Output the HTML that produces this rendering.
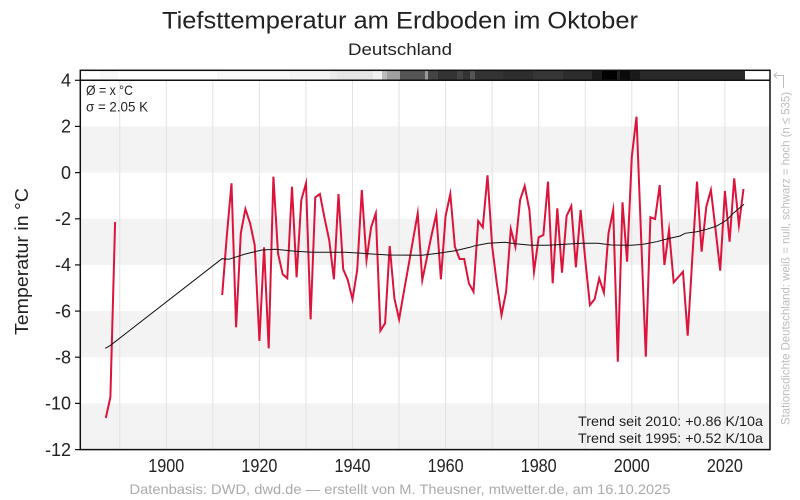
<!DOCTYPE html>
<html>
<head>
<meta charset="utf-8">
<style>
html,body{margin:0;padding:0;background:#fff;}
svg{display:block;}
text{font-family:"Liberation Sans",sans-serif;}
</style>
</head>
<body>
<svg width="800" height="500" viewBox="0 0 800 500" xmlns="http://www.w3.org/2000/svg">
<rect x="0" y="0" width="800" height="500" fill="#fff"/>
<!-- bands -->
<g fill="#f3f3f3">
<rect x="80.3" y="126.4" width="689.7" height="46.2"/>
<rect x="80.3" y="218.8" width="689.7" height="46.1"/>
<rect x="80.3" y="311.1" width="689.7" height="46.1"/>
<rect x="80.3" y="403.4" width="689.7" height="46.2"/>
</g>
<!-- vertical grid -->
<g stroke="#e2e2e2" stroke-width="1">
<line x1="119.75" y1="80" x2="119.75" y2="450"/>
<line x1="166.3" y1="80" x2="166.3" y2="450"/>
<line x1="212.85" y1="80" x2="212.85" y2="450"/>
<line x1="259.4" y1="80" x2="259.4" y2="450"/>
<line x1="305.95" y1="80" x2="305.95" y2="450"/>
<line x1="352.5" y1="80" x2="352.5" y2="450"/>
<line x1="399.05" y1="80" x2="399.05" y2="450"/>
<line x1="445.6" y1="80" x2="445.6" y2="450"/>
<line x1="492.15" y1="80" x2="492.15" y2="450"/>
<line x1="538.7" y1="80" x2="538.7" y2="450"/>
<line x1="585.25" y1="80" x2="585.25" y2="450"/>
<line x1="631.8" y1="80" x2="631.8" y2="450"/>
<line x1="678.35" y1="80" x2="678.35" y2="450"/>
<line x1="724.9" y1="80" x2="724.9" y2="450"/>
</g>
<!-- station density strip -->
<g shape-rendering="crispEdges">
<rect x="100" y="70.3" width="18" height="10" fill="#f8f8f8"/>
<rect x="217" y="70.3" width="73" height="10" fill="#f8f8f8"/>
<rect x="290" y="70.3" width="40" height="10" fill="#f3f3f3"/>
<rect x="330" y="70.3" width="7" height="10" fill="#ebebeb"/>
<rect x="337" y="70.3" width="36" height="10" fill="#e5e5e5"/>
<rect x="373" y="70.3" width="9" height="10" fill="#f0f0f0"/>
<rect x="382" y="70.3" width="5" height="10" fill="#bbbbbb"/>
<rect x="387" y="70.3" width="13" height="10" fill="#a0a0a0"/>
<rect x="400" y="70.3" width="25" height="10" fill="#555555"/>
<rect x="425" y="70.3" width="3" height="10" fill="#999999"/>
<rect x="428" y="70.3" width="10" height="10" fill="#444444"/>
<rect x="438" y="70.3" width="19" height="10" fill="#333333"/>
<rect x="457" y="70.3" width="6" height="10" fill="#444444"/>
<rect x="463" y="70.3" width="7" height="10" fill="#333333"/>
<rect x="470" y="70.3" width="5" height="10" fill="#555555"/>
<rect x="475" y="70.3" width="28" height="10" fill="#333333"/>
<rect x="503" y="70.3" width="30" height="10" fill="#2e2e2e"/>
<rect x="533" y="70.3" width="30" height="10" fill="#363636"/>
<rect x="563" y="70.3" width="29" height="10" fill="#2c2c2c"/>
<rect x="592" y="70.3" width="10" height="10" fill="#1a1a1a"/>
<rect x="602" y="70.3" width="15" height="10" fill="#000000"/>
<rect x="617" y="70.3" width="3" height="10" fill="#222222"/>
<rect x="620" y="70.3" width="10" height="10" fill="#0a0a0a"/>
<rect x="630" y="70.3" width="10" height="10" fill="#1a1a1a"/>
<rect x="640" y="70.3" width="105" height="10" fill="#2a2a2a"/>
</g>
<!-- frame -->
<rect x="80.3" y="70.3" width="689.7" height="379.3" fill="none" stroke="#111" stroke-width="1.5"/>
<line x1="80.3" y1="80.3" x2="770" y2="80.3" stroke="#111" stroke-width="1.5"/>
<!-- y ticks -->
<g stroke="#111" stroke-width="1.2">
<line x1="75" y1="80.3" x2="80.3" y2="80.3"/>
<line x1="75" y1="126.4" x2="80.3" y2="126.4"/>
<line x1="75" y1="172.6" x2="80.3" y2="172.6"/>
<line x1="75" y1="218.8" x2="80.3" y2="218.8"/>
<line x1="75" y1="264.9" x2="80.3" y2="264.9"/>
<line x1="75" y1="311.1" x2="80.3" y2="311.1"/>
<line x1="75" y1="357.2" x2="80.3" y2="357.2"/>
<line x1="75" y1="403.4" x2="80.3" y2="403.4"/>
<line x1="75" y1="449.6" x2="80.3" y2="449.6"/>
</g>
<g font-size="18" fill="#222" text-anchor="end">
<text x="71" y="86.5">4</text>
<text x="71" y="132.6">2</text>
<text x="71" y="178.8">0</text>
<text x="71" y="225">-2</text>
<text x="71" y="271.1">-4</text>
<text x="71" y="317.3">-6</text>
<text x="71" y="363.4">-8</text>
<text x="71" y="409.6">-10</text>
<text x="71" y="455.8">-12</text>
</g>
<g font-size="18" fill="#222" text-anchor="middle">
<text x="166.3" y="472" textLength="36" lengthAdjust="spacingAndGlyphs">1900</text>
<text x="259.4" y="472" textLength="36" lengthAdjust="spacingAndGlyphs">1920</text>
<text x="352.5" y="472" textLength="36" lengthAdjust="spacingAndGlyphs">1940</text>
<text x="445.6" y="472" textLength="36" lengthAdjust="spacingAndGlyphs">1960</text>
<text x="538.7" y="472" textLength="36" lengthAdjust="spacingAndGlyphs">1980</text>
<text x="631.8" y="472" textLength="36" lengthAdjust="spacingAndGlyphs">2000</text>
<text x="724.9" y="472" textLength="36" lengthAdjust="spacingAndGlyphs">2020</text>
</g>
<!-- data -->
<g fill="none" stroke="#dc143c" stroke-width="2" stroke-linejoin="miter" stroke-miterlimit="10">
<polyline points="105.8,418 110.4,397 115.1,222"/>
<polyline points="222.2,295 226.8,236 231.5,183.3 236.1,327.3 240.8,233.3 245.4,209 250.1,223.3 254.7,245 259.4,341 264.1,247.3 268.7,348.3 273.4,176.7 278.0,253.3 282.7,274.3 287.3,278.3 292.0,186.7 296.6,277.3 301.3,200 306.0,183.3 310.6,319.3 315.3,197.3 319.9,194 324.6,218.3 329.2,240 333.9,279.3 338.5,194 343.2,269.3 347.8,280 352.5,299.3 357.2,270 361.8,190 366.5,260 371.1,227.3 375.8,213.3 380.4,330.7 385.1,323.3 389.7,246 394.4,298.3 399.1,319.3 403.7,292.7 408.4,266.3 413.0,240 417.7,213.3 422.3,280 427.0,257.3 431.6,235 436.3,214 440.9,279.3 445.6,216 450.3,194 454.9,246.7 459.6,259 464.2,259 468.9,283.3 473.5,291.7 478.2,221 482.8,227.3 487.5,175.3 492.2,246.7 496.8,283.3 501.5,315 506.1,291.7 510.8,229 515.4,246.7 520.1,200 524.7,186 529.4,210 534.0,271.7 538.7,237.3 543.4,235 548.0,181.7 552.7,283.3 557.3,208.3 562.0,272.7 566.6,216 571.3,206 575.9,267.3 580.6,210 585.3,260 589.9,305 594.6,299.3 599.2,278.3 603.9,292.7 608.5,233.3 613.2,210 617.8,361.7 622.5,202.3 627.1,261.7 631.8,156.7 636.5,116.7 641.1,236.7 645.8,356.7 650.4,217.3 655.1,219 659.7,185 664.4,265 669.0,230 673.7,282.3 678.4,277 683.0,271.7 687.7,335.7 692.3,258 697.0,181.7 701.6,251.7 706.3,206.7 710.9,190 715.6,230 720.2,270.7 724.9,191 729.6,241.7 734.2,178.3 738.9,225 743.5,189"/>
</g>
<polyline fill="none" stroke="#111" stroke-width="1" points="105.3,348.3 110,345.7 222,258.7 228.7,259.3 245.3,254 262,250 275.3,249.3 295.3,251.3 312,252.3 345.3,252.3 362,253.3 371.7,254 388.3,255 421.7,255.3 438.3,253.3 455,250.7 470,247.3 475,245.7 488.3,243.3 505,242.3 518,244 531.3,245.3 548,245.3 564.7,244.3 581.3,243.3 598,243.3 611.3,245 631.3,245.3 643.3,244.3 656.7,241.7 666.7,239 680,236 685,233.3 696.7,231.7 706.7,229.3 716.7,226 726.7,220 733.3,213.3 744,204.3"/>
<!-- annotations -->
<g font-size="14" fill="#222">
<text x="86" y="95" textLength="47" lengthAdjust="spacingAndGlyphs">Ø = x °C</text>
<text x="86" y="111.5" textLength="62" lengthAdjust="spacingAndGlyphs">σ = 2.05 K</text>
<text x="763" y="426" text-anchor="end" textLength="185" lengthAdjust="spacingAndGlyphs">Trend seit 2010: +0.86 K/10a</text>
<text x="763" y="443" text-anchor="end" textLength="185" lengthAdjust="spacingAndGlyphs">Trend seit 1995: +0.52 K/10a</text>
</g>
<!-- titles -->
<text x="400" y="28.5" font-size="24" fill="#222" text-anchor="middle" textLength="476" lengthAdjust="spacingAndGlyphs">Tiefsttemperatur am Erdboden im Oktober</text>
<text x="400" y="55" font-size="17" fill="#222" text-anchor="middle" textLength="104" lengthAdjust="spacingAndGlyphs">Deutschland</text>
<text transform="translate(28,261.5) rotate(-90)" font-size="18" fill="#222" text-anchor="middle" textLength="147" lengthAdjust="spacingAndGlyphs">Temperatur in °C</text>
<text x="400" y="494" font-size="14" fill="#aaa" text-anchor="middle" textLength="541" lengthAdjust="spacingAndGlyphs">Datenbasis: DWD, dwd.de — erstellt von M. Theusner, mtwetter.de, am 16.10.2025</text>
<!-- right side vertical label -->
<text transform="translate(789.5,425) rotate(-90)" font-size="12" fill="#bdbdbd" textLength="333" lengthAdjust="spacingAndGlyphs">Stationsdichte Deutschland: weiß = null, schwarz = hoch (n ≤ 535)</text>
<g stroke="#bdbdbd" stroke-width="1" fill="none">
<polyline points="783.5,88 783.5,75.5 774,75.5"/>
<polyline points="777,72.5 774,75.5 777,78.5"/>
</g>
</svg>
</body>
</html>
